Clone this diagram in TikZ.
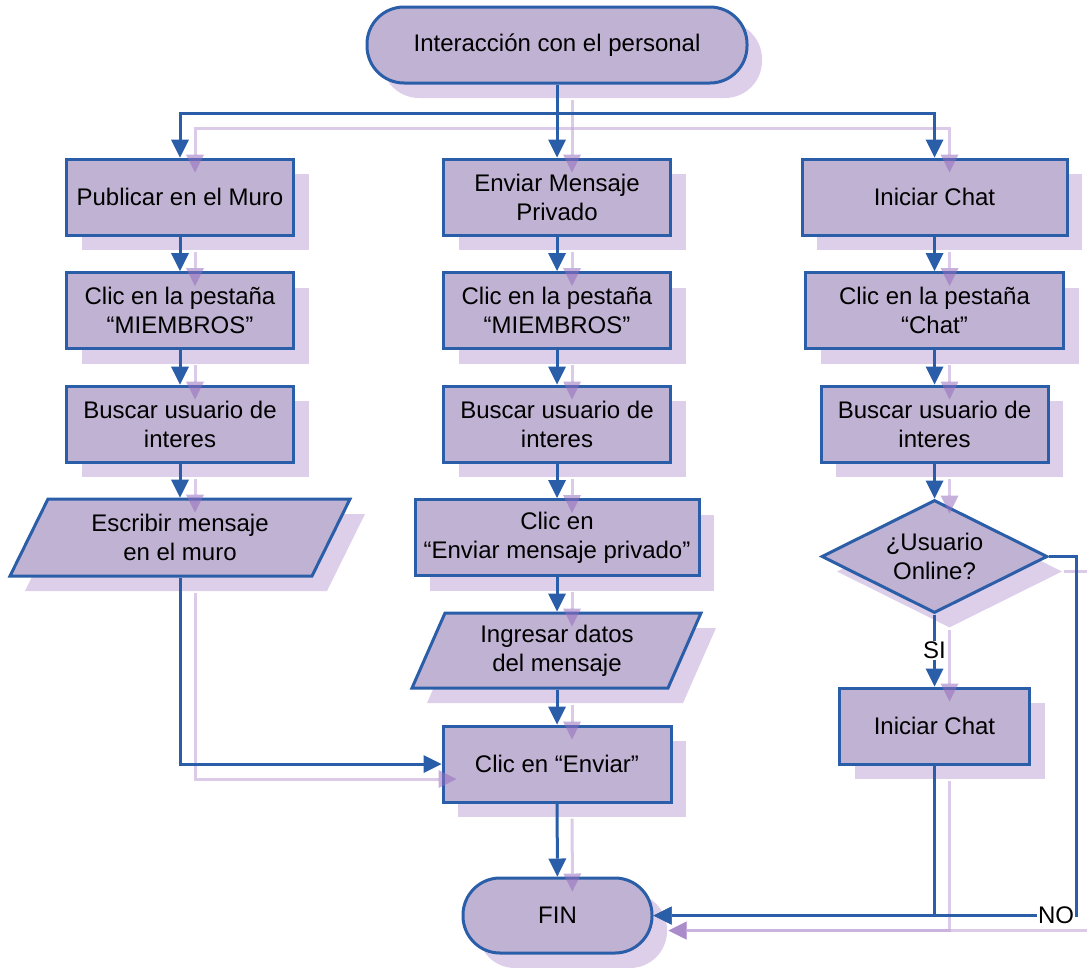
\documentclass[tikz,border=0pt]{standalone}
\usepackage{fontspec}
\setmainfont{Liberation Sans}
\usetikzlibrary{arrows.meta,shapes.geometric,shadows}

\definecolor{boxfill}{RGB}{192,178,210}
\definecolor{boxline}{RGB}{42,94,168}
\definecolor{shadefill}{RGB}{221,206,233}
\definecolor{shadeline}{RGB}{190,160,215}
\definecolor{shadetip}{RGB}{150,110,190}

\tikzset{
  cast/.style={drop shadow={shadow xshift=15pt, shadow yshift=-15pt, fill=shadefill, opacity=1}},
  outline/.style={draw=boxline, line width=3pt, fill=boxfill, line join=miter, cast},
  txt/.style={align=center, inner sep=2pt, font=\fontsize{24}{29}\selectfont},
  base/.style={outline, txt},
  stepbox/.style={base, rectangle, minimum width=227pt, minimum height=76pt},
  terminal/.style={base, rectangle, rounded corners=37pt, minimum height=76pt},
  slanttext/.style={txt, rectangle, minimum height=77pt, outer sep=1.5pt},
  decision/.style={base, diamond, aspect=2, inner sep=0pt,
    minimum width=226pt, minimum height=113pt},
  lbl/.style={fill=white, inner sep=1pt, font=\fontsize{24}{29}\selectfont},
  link/.style={draw=boxline, line width=3pt},
  arrowlink/.style={link, -{Triangle[length=18pt, width=18pt, line width=0pt]}},
}

% all connectors of the chart; drawn once as shadow and once on top
\newcommand\flowlinks{%
  \draw[link] (start) -- (split);
  \draw[arrowlink] (split) -| (pub);
  \draw[arrowlink] (split) -- (emp);
  \draw[arrowlink] (split) -| (chat);
  % left column
  \draw[arrowlink] (pub) -- (mie1);
  \draw[arrowlink] (mie1) -- (bus1);
  \draw[arrowlink] (bus1) -- (esc);
  \draw[arrowlink] (esc) |- (enviar);
  % middle column
  \draw[arrowlink] (emp) -- (mie2);
  \draw[arrowlink] (mie2) -- (bus2);
  \draw[arrowlink] (bus2) -- (cemp);
  \draw[arrowlink] (cemp) -- (ing);
  \draw[arrowlink] (ing) -- (enviar);
  \draw[arrowlink] (enviar) -- (fin);
  % right column
  \draw[arrowlink] (chat) -- (mie3);
  \draw[arrowlink] (mie3) -- (bus3);
  \draw[arrowlink] (bus3) -- (dec);
  \draw[arrowlink] (dec) -- (chat2);
  \draw[arrowlink] (chat2) |- (fin);
  \draw[arrowlink] (dec.east) -| (nocorner) -- (fin);
}

\begin{document}
\begin{tikzpicture}[x=1pt, y=-1pt]
  \useasboundingbox (0,0) rectangle (1087,967);

  % start and split point
  \node[terminal, minimum width=380pt] (start) at (557,45) {Interacción con el personal};
  \coordinate (split) at (557,113);

  % left column: wall post
  \node[stepbox] (pub) at (180,197) {Publicar en el Muro};
  \node[stepbox] (mie1) at (180,310.5) {Clic en la pestaña\\“MIEMBROS”};
  \node[stepbox] (bus1) at (180,424) {Buscar usuario de\\interes};
  \path[outline] (48,499) -- (350,499) -- (312,576) -- (10,576) -- cycle;
  \node[slanttext] (esc) at (180,537.5) {Escribir mensaje\\en el muro};

  % middle column: private message
  \node[stepbox] (emp) at (557,197) {Enviar Mensaje\\Privado};
  \node[stepbox] (mie2) at (557,310.5) {Clic en la pestaña\\“MIEMBROS”};
  \node[stepbox] (bus2) at (557,424) {Buscar usuario de\\interes};
  \node[stepbox, minimum width=284pt] (cemp) at (557,537.5) {Clic en\\“Enviar mensaje privado”};
  \path[outline] (445,613) -- (701,613) -- (668,688) -- (412,688) -- cycle;
  \node[slanttext, minimum height=75pt] (ing) at (557,650.5) {Ingresar datos\\del mensaje};
  \node[stepbox, minimum width=228pt] (enviar) at (557,764) {Clic en “Enviar”};
  \node[terminal, minimum width=189pt, minimum height=75pt] (fin) at (557.5,915.5) {FIN};

  % right column: chat
  \node[stepbox, minimum width=265pt] (chat) at (934.5,197) {Iniciar Chat};
  \node[stepbox, minimum width=258pt] (mie3) at (934.5,310.5) {Clic en la pestaña\\“Chat”};
  \node[stepbox] (bus3) at (934.5,424) {Buscar usuario de\\interes};
  \node[decision] (dec) at (934.5,556.5) {¿Usuario\\Online?};
  \node[stepbox, minimum width=190pt] (chat2) at (934.5,726) {Iniciar Chat};
  \coordinate (nocorner) at (1076,915.5);

  % connector shadows
  \begin{scope}[transform canvas={shift={(15pt,-15pt)}},
      link/.style={draw=shadeline, line width=3pt, opacity=.55},
      arrowlink/.style={link, -{Triangle[length=18pt, width=18pt, line width=0pt, color=shadetip]}}]
    \flowlinks
  \end{scope}

  % connectors
  \flowlinks

  % branch labels
  \node[lbl] (si) at (934.5,650) {SI};
  \node[lbl] (no) at (1056,915.5) {NO};
\end{tikzpicture}
\end{document}
